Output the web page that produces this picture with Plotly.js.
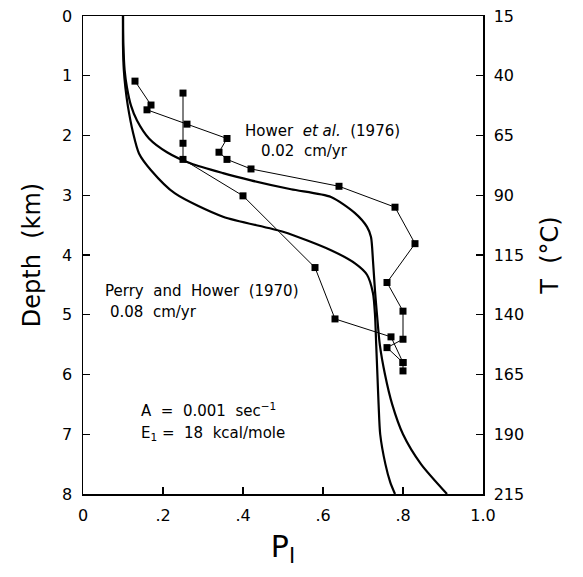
<!DOCTYPE html>
<html>
<head>
<meta charset="utf-8">
<script src="https://cdn.plot.ly/plotly-3.0.1.min.js"></script>
<style>html,body{margin:0;padding:0;background:#fff;}#chart{width:583px;height:577px;}</style>
</head>
<body>
<div id="chart"></div>
<script>
// Hower et al. (1976) measured points
var howerP = [0.13,0.17,0.16,0.26,0.36,0.34,0.36,0.42,0.64,0.78,0.83,0.76,0.80,0.80,0.76,0.80,0.80];
var howerD = [1.09,1.49,1.57,1.81,2.05,2.28,2.40,2.56,2.85,3.20,3.81,4.46,4.94,5.41,5.55,5.80,5.94];
// Perry and Hower (1970) measured points
var perryP = [0.25,0.25,0.25,0.40,0.58,0.63,0.77,0.80];
var perryD = [1.29,2.13,2.40,3.01,4.21,5.07,5.37,5.80];
// Model curve, 0.02 cm/yr
var model02P = [0.100,0.101,0.104,0.110,0.120,0.135,0.165,0.21,0.27,0.35,0.42,0.52,0.62,0.68,0.71,0.72,0.725,0.73,0.735,0.742,0.755,0.773,0.80,0.845,0.91];
var model02D = [0,0.5,0.9,1.2,1.5,1.75,2.05,2.28,2.47,2.63,2.75,2.90,3.03,3.30,3.53,3.70,4.10,4.60,5.00,5.50,6.00,6.50,7.00,7.50,8.0];
// Model curve, 0.08 cm/yr
var model08P = [0.100,0.100,0.102,0.106,0.112,0.125,0.14,0.17,0.23,0.35,0.50,0.62,0.68,0.71,0.725,0.73,0.733,0.736,0.739,0.743,0.756,0.768,0.78];
var model08D = [0,0.5,0.9,1.2,1.5,1.95,2.3,2.58,2.97,3.36,3.61,3.92,4.14,4.33,4.64,5.0,5.5,6.0,6.5,7.0,7.5,7.8,8.0];
// Axis ticks
var xTickVals = [0,0.2,0.4,0.6,0.8,1.0];
var xTickText = ['0','.2','.4','.6','.8','1.0'];
var depthTicks = [0,1,2,3,4,5,6,7,8];
var tempTicks = [15,40,65,90,115,140,165,190,215];

var FONT = 'DejaVu Sans, Arial, sans-serif';

var traces = [
  {x: model02P, y: model02D, mode: 'lines', line: {color: '#000', width: 2.2, shape: 'spline', smoothing: 0.7}, hoverinfo: 'skip'},
  {x: model08P, y: model08D, mode: 'lines', line: {color: '#000', width: 2.2, shape: 'spline', smoothing: 0.7}, hoverinfo: 'skip'},
  {x: howerP, y: howerD, mode: 'lines+markers', line: {color: '#000', width: 1}, marker: {symbol: 'square', size: 7, color: '#000'}},
  {x: perryP, y: perryD, mode: 'lines+markers', line: {color: '#000', width: 1}, marker: {symbol: 'square', size: 7, color: '#000'}},
  {x: [null], y: [null], yaxis: 'y2', mode: 'lines', hoverinfo: 'skip'}
];

var layout = {
  width: 583, height: 577,
  margin: {l: 83, r: 100, t: 16, b: 83},
  paper_bgcolor: '#fff', plot_bgcolor: '#fff',
  showlegend: false,
  font: {family: FONT, color: '#000', size: 16},
  xaxis: {
    range: [0, 1], tickvals: xTickVals, ticktext: xTickText,
    ticks: 'inside', ticklen: 7, tickwidth: 1.3, tickcolor: '#000',
    showline: true, linecolor: '#000', linewidth: 1.5, mirror: true,
    showgrid: false, zeroline: false,
    tickfont: {family: FONT, size: 16},
    ticklabelstandoff: 6,
    title: {text: 'P<sub>I</sub>', font: {family: FONT, size: 30}, standoff: 12}
  },
  yaxis: {
    range: [8, 0], tickvals: depthTicks,
    ticks: 'inside', ticklen: 7, tickwidth: 1.3, tickcolor: '#000',
    showline: true, linecolor: '#000', linewidth: 1.5,
    showgrid: false, zeroline: false,
    tickfont: {family: FONT, size: 16},
    ticklabelstandoff: 6,
    title: {text: 'Depth  (km)', font: {family: FONT, size: 24}, standoff: 14}
  },
  yaxis2: {
    overlaying: 'y', side: 'right', anchor: 'x',
    range: [215, 15], tickvals: tempTicks,
    ticks: 'inside', ticklen: 7, tickwidth: 1.3, tickcolor: '#000',
    showline: true, linecolor: '#000', linewidth: 1.5,
    showgrid: false, zeroline: false,
    tickfont: {family: FONT, size: 16},
    ticklabelstandoff: 6,
    title: {text: 'T  (°C)', font: {family: FONT, size: 24}, standoff: 18}
  },
  annotations: [
    {x: 0.40, y: 1.93, xref: 'x', yref: 'y', xanchor: 'left', yanchor: 'middle', showarrow: false,
     text: 'Hower  <i>et al.</i>  (1976)', font: {family: FONT, size: 15}},
    {x: 0.44, y: 2.26, xref: 'x', yref: 'y', xanchor: 'left', yanchor: 'middle', showarrow: false,
     text: '0.02  cm/yr', font: {family: FONT, size: 15}},
    {x: 0.05, y: 4.60, xref: 'x', yref: 'y', xanchor: 'left', yanchor: 'middle', showarrow: false,
     text: 'Perry  and  Hower  (1970)', font: {family: FONT, size: 15}},
    {x: 0.063, y: 4.95, xref: 'x', yref: 'y', xanchor: 'left', yanchor: 'middle', showarrow: false,
     text: '0.08  cm/yr', font: {family: FONT, size: 15}},
    {x: 0.14, y: 6.60, xref: 'x', yref: 'y', xanchor: 'left', yanchor: 'middle', showarrow: false,
     text: 'A  =  0.001  sec<sup>−1</sup>', font: {family: FONT, size: 15}},
    {x: 0.14, y: 6.98, xref: 'x', yref: 'y', xanchor: 'left', yanchor: 'middle', showarrow: false,
     text: 'E<sub>1</sub> =  18  kcal/mole', font: {family: FONT, size: 15}}
  ]
};

Plotly.newPlot('chart', traces, layout, {displayModeBar: false, staticPlot: true});
</script>
</body>
</html>
